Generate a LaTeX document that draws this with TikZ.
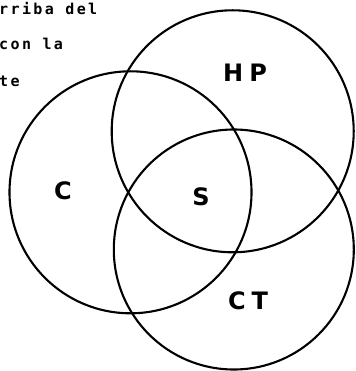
\documentclass[tikz,border=0pt]{standalone}
\usepackage{fontspec}
\newfontfamily\mono[LetterSpace=16,UprightFont=* Bold]{DejaVu Sans Mono}
\newfontfamily\lab[LetterSpace=25,UprightFont=* Bold]{DejaVu Sans}
\begin{document}
\begin{tikzpicture}[x=1pt,y=-1pt,
  ring/.style={draw=black,line width=2.1pt},
  note/.style={inner sep=0pt,anchor=base west,font=\mono\fontsize{15}{15}\selectfont},
  setlab/.style={inner sep=0pt,font=\lab\fontsize{24}{24}\selectfont}]
\useasboundingbox (0,0) rectangle (355,371);
\clip (0,0) rectangle (355,371);
\draw[ring] (130.5,192.3) circle[radius=121];
\draw[ring] (232.7,131.3) circle[radius=121];
\draw[ring] (233.8,249.5) circle[radius=120];
\node[note] (l1) at (-1,15) {rriba del};
\node[note] (l2) at (-1,50) {con la};
\node[note] (l3) at (-1,87) {te};
\node[setlab] (hp) at (245,73) {HP};
\node[setlab] (c) at (63,191) {C};
\node[setlab] (s) at (201,197) {S};
\node[setlab] (ct) at (248,301) {CT};
\end{tikzpicture}
\end{document}
